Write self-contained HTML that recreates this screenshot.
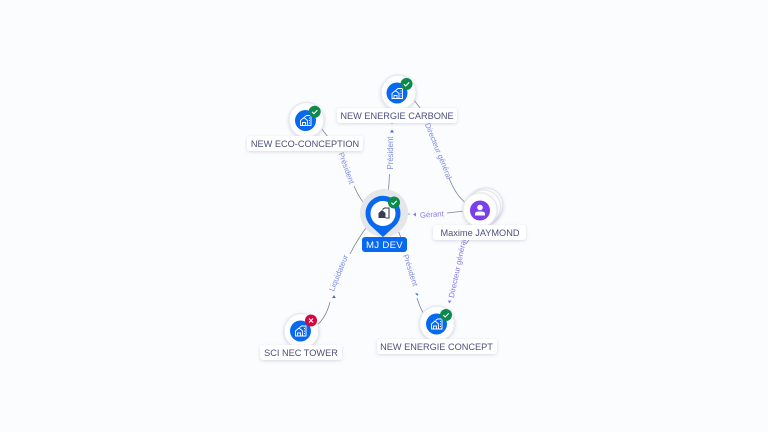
<!DOCTYPE html>
<html><head><meta charset="utf-8"><style>
html,body{margin:0;padding:0;background:#fafcfe;width:768px;height:432px;overflow:hidden}
svg{display:block}
text{font-family:"Liberation Sans",sans-serif}
.l{font-size:9.2px;fill:#4b4f7c;text-anchor:middle}
.e{font-size:7.8px;fill:#7d8de0;text-anchor:middle}
.g{fill:#8a78e8}
.c{fill:none;stroke:#7f8296;stroke-width:.8}
.lb{fill:#fff;filter:url(#s)}
.n{fill:#fff;stroke:#e6e7ec;stroke-width:1.200;filter:url(#s)}
.b{fill:none;stroke:#fff;stroke-width:.9}
.ck{fill:none;stroke:#fff;stroke-width:1.1}
</style></head><body>
<svg width="768" height="432" viewBox="0 0 768 432" xmlns="http://www.w3.org/2000/svg">
<defs>
<filter id="s" x="-30%" y="-40%" width="160%" height="190%"><feDropShadow dx="0" dy="1" stdDeviation="1.500" flood-color="#8a90b0" flood-opacity=".32"/></filter>
<g id="bld"><path class="b" d="M-5 5V0L-1.500-3 2 0V5ZM-3 5V2H0V5M-1-3.500L1-5H5.500V5H2M3.500-2.500H4.500M3.500 0H4.500M3.500 2.500H4.500"/></g>
<g id="ok"><circle r="6" fill="#0b8a4c"/><path class="ck" d="M-2.600 .2L-.8 2 2.700-1.600"/></g>
</defs>
<rect width="768" height="432" fill="#fafcfe"/>

<!-- connectors -->
<path class="c" d="M321 128L328 137"/>
<path class="c" d="M354 186Q360 200 368 208"/>
<path class="c" d="M392 124V123"/>
<path class="c" d="M389.500 174Q389 185 388 196"/>
<path class="c" d="M414 100L420 108"/>
<path class="c" d="M449 178Q456 196 467 204"/>
<path class="c" d="M447 213L465 211"/>
<path class="c" d="M404 214L410 214"/>
<path class="c" d="M369 224Q358 238 350 254"/>
<path class="c" d="M330 302Q326 318 316 326"/>
<path class="c" d="M396 226Q401 236 404 248"/>
<path class="c" d="M417 298Q420 308 424 314"/>
<path class="c" d="M469 240L466 244"/>

<!-- edge labels -->
<text class="e" transform="translate(344 169) rotate(70)">Président</text>
<text class="e" transform="translate(393 153) rotate(-90)">Président</text>
<text class="e" transform="translate(436 152) rotate(68)">Directeur général</text>
<text class="e g" transform="translate(432 217) rotate(-4)">Gérant</text>
<text class="e" transform="translate(341 274) rotate(-68)">Liquidateur</text>
<text class="e" transform="translate(408 271) rotate(72)">Président</text>
<text class="e g" transform="translate(460 269) rotate(-78)">Directeur général</text>

<!-- arrows -->
<path fill="#3f6fd8" d="M392 129.500l-2 3h4z"/>
<path fill="#8a78e8" d="M413 214.500l3-2v4z"/>
<path fill="#3f6fd8" d="M334 295l-2 3h3.800z"/>
<path fill="#3f6fd8" d="M418.500 294l-3.300-1.200 2 3.200z"/>
<path fill="#8a78e8" d="M449.500 303.500l2-3h-3.800z"/>

<!-- ECO -->
<circle class="n" cx="306.500" cy="120" r="17.500"/>
<circle cx="305.500" cy="120.500" r="10.500" fill="#0868f0"/>
<use href="#bld" x="305.500" y="120.500"/>
<use href="#ok" x="314.700" y="111.700"/>
<rect class="lb" x="247" y="136" width="116" height="15" rx="3"/>
<text class="l" x="305" y="147">NEW ECO-CONCEPTION</text>

<!-- CARBONE -->
<circle class="n" cx="398.500" cy="92.500" r="17.500"/>
<circle cx="397" cy="93" r="10.500" fill="#0868f0"/>
<use href="#bld" x="397" y="93.500"/>
<use href="#ok" x="406.500" y="84"/>
<rect class="lb" x="337" y="108" width="120" height="15" rx="3"/>
<text class="l" x="397" y="119">NEW ENERGIE CARBONE</text>

<!-- MJ DEV -->
<circle cx="384" cy="213" r="24" fill="#e5e6ea"/>
<path fill="#0868f0" d="M383 237L370.500 225.500A17.500 17.500 0 1 1 395.500 225.500Z"/>
<circle cx="383" cy="213.500" r="12.500" fill="#fff"/>
<g transform="translate(383.500 213)"><path d="M-5 5V0L-1.500-3 2 0V5Z" fill="#3a3d55"/><path d="M-1-3.500L1-5H5.500V5H2" fill="none" stroke="#3a3d55" stroke-width="1.100"/></g>
<use href="#ok" x="394" y="202.500"/>
<rect x="362" y="237" width="45" height="15" rx="3" fill="#0868f0"/>
<text x="384.500" y="248" font-size="9.600" fill="#fff" text-anchor="middle" letter-spacing=".3">MJ DEV</text>

<!-- Maxime -->
<circle class="n" cx="486" cy="205" r="17"/>
<circle class="n" cx="483.500" cy="207" r="17"/>
<circle class="n" cx="480" cy="210" r="17"/>
<circle cx="480" cy="210.500" r="10" fill="#7a3fe8"/>
<circle cx="480" cy="207.500" r="2.800" fill="#fff"/>
<path fill="#fff" d="M475 215.500v-1.500q0-2.300 3-2.500h4q3 .2 3 2.500v1.500z"/>
<rect class="lb" x="433" y="225" width="93" height="15" rx="3"/>
<text class="l" x="480" y="236">Maxime JAYMOND</text>

<!-- SCI NEC -->
<circle class="n" cx="301.500" cy="331" r="17.500"/>
<circle cx="300.500" cy="331" r="10.500" fill="#0868f0"/>
<use href="#bld" x="300.500" y="331"/>
<circle cx="311" cy="320.500" r="6" fill="#d4083f"/>
<path class="ck" d="M309 318.500l4 4M313 318.500l-4 4"/>
<rect class="lb" x="260" y="345" width="82" height="15" rx="3"/>
<text class="l" x="301" y="356">SCI NEC TOWER</text>

<!-- CONCEPT -->
<circle class="n" cx="437" cy="323.500" r="17.500"/>
<circle cx="436.500" cy="324" r="10.500" fill="#0868f0"/>
<use href="#bld" x="436.500" y="324"/>
<use href="#ok" x="446" y="315"/>
<rect class="lb" x="377" y="339" width="120" height="15" rx="3"/>
<text class="l" x="436.500" y="350">NEW ENERGIE CONCEPT</text>
</svg>
</body></html>
